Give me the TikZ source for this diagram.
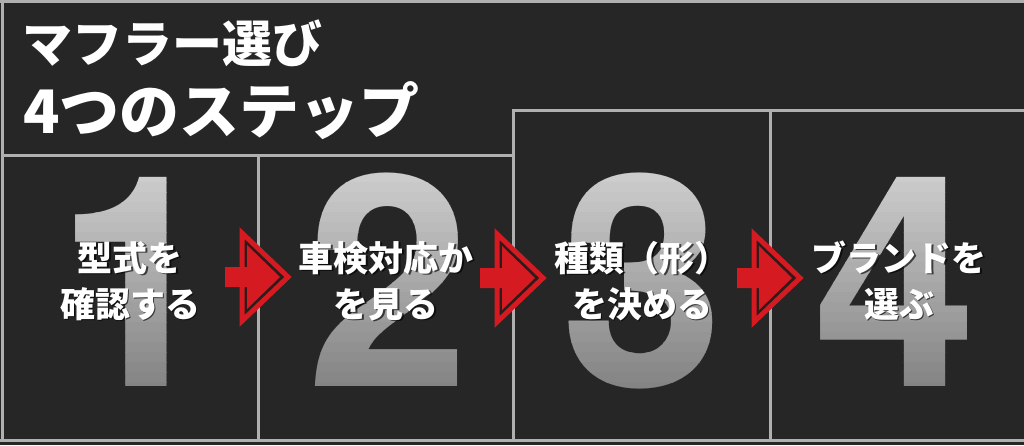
\documentclass[tikz,border=0pt]{standalone}
\usepackage{fontspec}
\newfontfamily\jp{Noto Sans CJK JP}
\newfontfamily\numf{TeX Gyre Heros}
\definecolor{bg}{RGB}{38,38,38}
\definecolor{frame}{RGB}{176,176,176}
\definecolor{arrred}{RGB}{214,26,34}
\definecolor{arrdark}{RGB}{48,26,26}
\definecolor{silverhi}{RGB}{204,204,204}
\definecolor{silverlo}{RGB}{128,128,128}
\newcommand{\steparrow}[1]{%
  \begin{scope}[shift={(#1)}]
    \filldraw[draw=arrred, line width=5pt, fill=arrdark, line join=miter]
      (-16,-44) -- (30,0) -- (-16,44) -- cycle;
    \fill[arrred] (-33,-10) -- (-11,-10) -- (-11,-32) -- (22,0) -- (-11,32)
      -- (-11,10) -- (-33,10) -- cycle;
  \end{scope}}
\begin{document}
\begin{tikzpicture}[x=1pt, y=-1pt,
  frameline/.style={draw=frame, line width=3pt},
  titletext/.style={text=white, inner sep=0pt, anchor=base west},
  numtext/.style={inner sep=0pt, anchor=base,
                  font=\numf\bfseries\fontsize{295}{295}\selectfont},
  labeltext/.style={text=white, inner sep=0pt, anchor=base,
                    font=\jp\bfseries\fontsize{35}{35}\selectfont},
  labelshadow/.style={text=black, opacity=0.65, inner sep=0pt, anchor=base,
                    font=\jp\bfseries\fontsize{35}{35}\selectfont}]
  \useasboundingbox (0,0) rectangle (1024,445);
  \fill[bg] (0,0) rectangle (1024,445);

  % frame and panels
  \draw[frameline] (0,1.5) -- (1024,1.5);
  \draw[frameline] (2.5,0) -- (2.5,442);
  \draw[frameline] (0,440.5) -- (1024,440.5);
  \draw[frameline] (2.5,155) -- (513,155);
  \draw[frameline] (258,155) -- (258,440.5);
  \draw[frameline] (513,155) -- (513,110) -- (1024,110);
  \draw[frameline] (513,155) -- (513,440.5);
  \draw[frameline] (770,110) -- (770,440.5);

  % big numerals with a banded silver gradient
  \foreach \i in {0,...,22} {
    \pgfmathsetmacro{\pct}{100-\i*100/22}
    \begin{scope}
      \clip (0,172+\i*10) rectangle (1024,182.6+\i*10);
      \node[numtext, text=silverhi!\pct!silverlo] (na\i) at (138,386) {1};
      \node[numtext, text=silverhi!\pct!silverlo] (nb\i) at (389,386) {2};
      \node[numtext, text=silverhi!\pct!silverlo] (nc\i) at (643,386) {3};
      \node[numtext, text=silverhi!\pct!silverlo] (nd\i) at (895,386) {4};
    \end{scope}
  }

  % title
  \node[titletext, font=\jp\bfseries\fontsize{50}{50}\selectfont] (t1) at (22,62) {マフラー選び};
  \node[titletext, font=\jp\bfseries\fontsize{60}{60}\selectfont] (t2) at (23,133) {4つのステップ};

  % labels with shadows
  \foreach \cx/\la/\lb/\nm in {130/型式を/確認する/a, 386/車検対応か/を見る/b,
                               642/種類（形）/を決める/c, 899/ブランドを/選ぶ/d} {
    \node[labelshadow] (s\nm1) at (\cx+1.5,272.5) {\la};
    \node[labelshadow] (s\nm2) at (\cx+1.5,318.5) {\lb};
    \node[labeltext] (l\nm1) at (\cx,271) {\la};
    \node[labeltext] (l\nm2) at (\cx,317) {\lb};
  }

  % arrows
  \coordinate (a1) at (258,277);
  \coordinate (a2) at (513,278);
  \coordinate (a3) at (770,278);
  \steparrow{a1}
  \steparrow{a2}
  \steparrow{a3}
\end{tikzpicture}
\end{document}
